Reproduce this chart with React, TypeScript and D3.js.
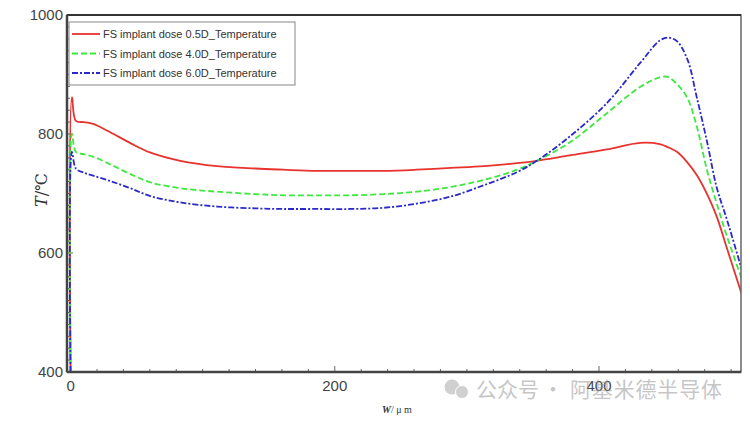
import React from "react";
import * as d3 from "d3";

const xs = [0, 1, 4, 10, 17, 30, 45, 60, 83, 111, 140, 161, 186, 212, 237, 262, 288, 313, 338, 353, 378, 406, 431, 446, 452, 459, 467, 474, 482, 489, 497, 508];
const red = [400, 862, 822, 820, 817, 803, 785, 769, 755, 746, 742, 740, 738, 738, 738, 740, 743, 746, 751, 755, 764, 774, 785, 783, 778, 770, 752, 731, 698, 662, 607, 531];
const green = [400, 800, 770, 766, 762, 749, 733, 719, 709, 703, 699, 697, 697, 697, 699, 703, 711, 723, 740, 755, 786, 835, 879, 895, 896, 884, 860, 813, 737, 684, 627, 557];
const blue = [400, 770, 742, 735, 730, 721, 709, 696, 685, 678, 675, 674, 674, 674, 676, 683, 695, 714, 736, 755, 796, 852, 919, 957, 962, 956, 925, 862, 785, 711, 655, 573];

const seriesNames = [
  "FS implant dose 0.5D_Temperature",
  "FS implant dose 4.0D_Temperature",
  "FS implant dose 6.0D_Temperature",
];
const seriesColors = ["#e8322e", "#3ee83e", "#2a2ac8"];
const seriesDash = ["none", "6,3", "6,2,2,2"];
const seriesValues = [red, green, blue];

const xMajor = [0, 200, 400];
const yMajor = [400, 600, 800, 1000];

export default function App() {
  const left = 67, right = 741, top = 15, bottom = 372;
  const x = d3.scaleLinear().domain([-2.7, 507.5]).range([left, right]);
  const y = d3.scaleLinear().domain([400, 1000]).range([bottom, top]);
  const xMinor = d3.range(0, 501, 20);
  const yMinor = d3.range(400, 1001, 20);

  const line = (vals: number[]) =>
    d3
      .line<number>()
      .x((_, i) => x(xs[i]))
      .y((v) => y(v))
      .curve(d3.curveCatmullRom.alpha(0.5))(vals) || "";

  return (
    <svg
      width={750}
      height={424}
      style={{ position: "absolute", left: 0, top: 0, background: "#fff" }}
      fontFamily="'Liberation Sans', Arial, sans-serif"
    >
      <defs>
        <clipPath id="plot">
          <rect x={left} y={top} width={right - left} height={bottom - top} />
        </clipPath>
      </defs>
      <rect x={0} y={0} width={750} height={424} fill="#fff" />

      {/* ticks */}
      {xMinor.map((t) => (
        <line
          key={"xm" + t}
          x1={x(t)}
          x2={x(t)}
          y1={bottom}
          y2={bottom - (t % 200 === 0 ? 6 : 3)}
          stroke="#666"
          strokeWidth={1}
        />
      ))}
      {yMinor.map((t) => (
        <line
          key={"ym" + t}
          x1={left}
          x2={left + (t % 200 === 0 ? 6 : 3)}
          y1={y(t)}
          y2={y(t)}
          stroke="#666"
          strokeWidth={1}
        />
      ))}

      {/* curves */}
      <g clipPath="url(#plot)">
        {seriesValues.map((vals, i) => (
          <path
            key={i}
            d={line(vals)}
            fill="none"
            stroke={seriesColors[i]}
            strokeWidth={1.8}
            strokeDasharray={seriesDash[i]}
          />
        ))}
      </g>

      {/* frame */}
      <rect x={left} y={top} width={right - left} height={bottom - top} fill="none" stroke="#666" strokeWidth={1.5} />
      <line x1={left} x2={right} y1={top} y2={top} stroke="#333" strokeWidth={2} />
      <line x1={left} x2={left} y1={top} y2={bottom} stroke="#444" strokeWidth={2.5} />
      <line x1={left} x2={right} y1={bottom} y2={bottom} stroke="#444" strokeWidth={2.5} />

      {/* tick labels */}
      {xMajor.map((t) => (
        <text key={"xl" + t} x={x(t)} y={391} textAnchor="middle" fontSize={15} fill="#444">
          {t}
        </text>
      ))}
      {yMajor.map((t) => (
        <text key={"yl" + t} x={63} y={y(t) + 5} textAnchor="end" fontSize={15} fill="#444">
          {t}
        </text>
      ))}

      {/* axis labels */}
      <text
        transform="translate(47,190) rotate(-90)"
        textAnchor="middle"
        fontSize={16}
        fontFamily="'DejaVu Serif', 'Liberation Serif', serif"
        fill="#333"
      >
        <tspan fontStyle="italic">T</tspan>/℃
      </text>
      <text x={397} y={413} textAnchor="middle" fontSize={10} fontFamily="'Liberation Serif', serif" fill="#333">
        <tspan fontStyle="italic" fontWeight="bold">W</tspan>/ μ m
      </text>

      {/* legend */}
      <rect x={69} y={22} width={226} height={63} fill="#fff" stroke="#888" strokeWidth={1} />
      {seriesNames.map((n, i) => (
        <g key={n}>
          <line
            x1={72}
            x2={100}
            y1={34 + i * 19.5}
            y2={34 + i * 19.5}
            stroke={seriesColors[i]}
            strokeWidth={1.8}
            strokeDasharray={seriesDash[i]}
          />
          <text x={103} y={38 + i * 19.5} fontSize={11} fill="#333">
            {n}
          </text>
        </g>
      ))}

      {/* watermark */}
      <g opacity={0.55} fontFamily="'Noto Sans CJK SC', sans-serif" fill="#999" fontSize={21}>
        <circle cx={452} cy={387} r={7.5} fill="#aaa" />
        <circle cx={462} cy={392} r={6.5} fill="#aaa" stroke="#fff" strokeWidth={1} />
        <text x={476} y={397}>公众号</text>
        <text x={553} y={397} textAnchor="middle">·</text>
        <text x={570} y={397} textLength={152}>阿基米德半导体</text>
      </g>
    </svg>
  );
}
